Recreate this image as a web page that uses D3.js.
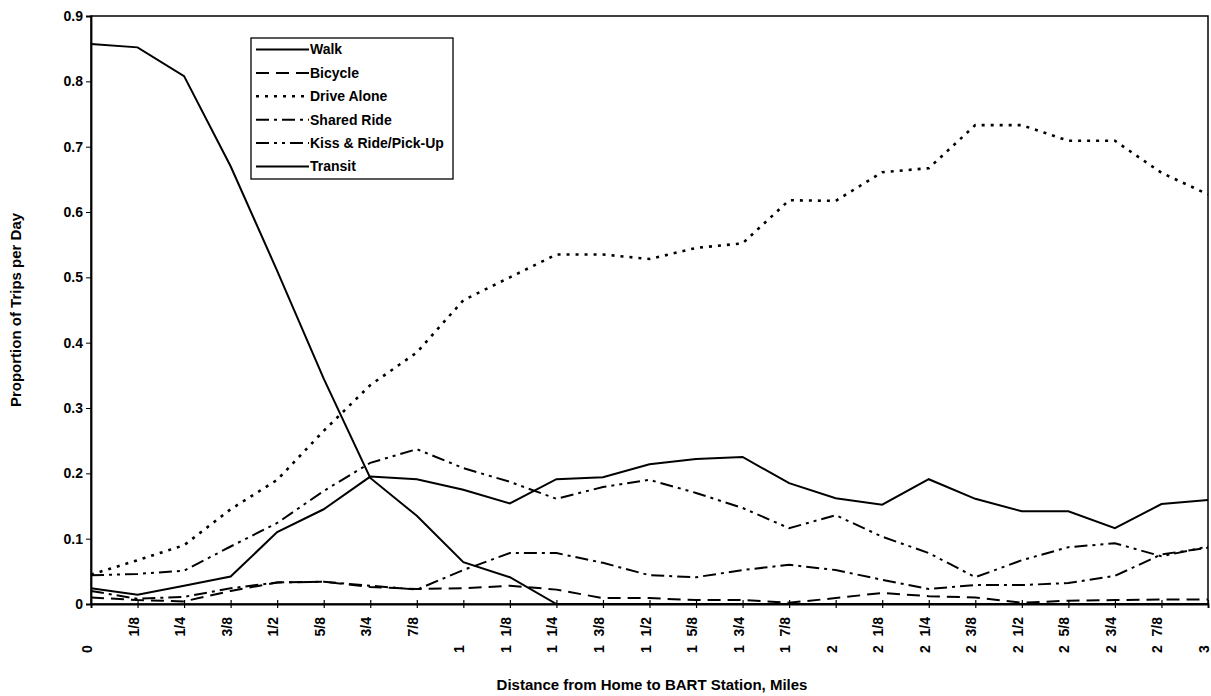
<!DOCTYPE html>
<html>
<head>
<meta charset="utf-8">
<script src="https://cdn.jsdelivr.net/npm/d3@7"></script>
<style>
  body { margin: 0; background: #fff; }
  svg { display: block; font-family: "Liberation Sans", Arial, sans-serif; }
</style>
</head>
<body>
<svg id="chart"></svg>
<script>
// distance categories (miles), as printed on the axis
const distances = ['0','1/8','1/4','3/8','1/2','5/8','3/4','7/8','1','1 1/8','1 1/4','1 3/8','1 1/2',
  '1 5/8','1 3/4','1 7/8','2','2 1/8','2 1/4','2 3/8','2 1/2','2 5/8','2 3/4','2 7/8','3'];

const walk = [0.857,0.852,0.808,0.670,0.510,0.345,0.193,0.135,0.064,0.041,0,0,0,0,0,0,0,0,0,0,0,0,0,0,0];
const bicycle = [0.010,0.006,0.004,0.020,0.033,0.034,0.026,0.023,0.024,0.028,0.022,0.009,0.009,
  0.006,0.006,0.002,0.009,0.017,0.012,0.010,0.002,0.005,0.006,0.007,0.007];
const driveAlone = [0.045,0.067,0.090,0.145,0.190,0.265,0.335,0.385,0.465,0.500,0.535,0.535,0.528,
  0.545,0.552,0.618,0.617,0.661,0.667,0.733,0.733,0.709,0.709,0.660,0.627];
const sharedRide = [0.020,0.008,0.011,0.024,0.033,0.034,0.028,0.022,0.052,0.078,0.078,0.063,0.044,
  0.041,0.052,0.060,0.052,0.037,0.023,0.029,0.029,0.032,0.043,0.076,0.086];
const kissRide = [0.044,0.046,0.051,0.088,0.124,0.173,0.216,0.237,0.208,0.187,0.161,0.179,0.190,
  0.170,0.147,0.116,0.136,0.103,0.078,0.041,0.067,0.087,0.093,0.073,0.088];
const transit = [0.024,0.014,0.028,0.042,0.110,0.145,0.195,0.191,0.175,0.154,0.191,0.194,0.214,
  0.222,0.225,0.185,0.162,0.152,0.191,0.161,0.142,0.142,0.116,0.153,0.159];

const yTicks = [0,0.1,0.2,0.3,0.4,0.5,0.6,0.7,0.8,0.9];

const series = [
  {name:'Walk', values:walk, dash:null},
  {name:'Bicycle', values:bicycle, dash:'13,7'},
  {name:'Drive Alone', values:driveAlone, dash:'3,6'},
  {name:'Shared Ride', values:sharedRide, dash:'13,5,3,5'},
  {name:'Kiss & Ride/Pick-Up', values:kissRide, dash:'13,5,3,5,3,5'},
  {name:'Transit', values:transit, dash:null}
];

const svgWidth = 1211;
const svgHeight = 696;
const plotLeft = 91, plotRight = 1208, plotTop = 16, plotBottom = 604;

const svg = d3.select('#chart')
  .attr('width', svgWidth)
  .attr('height', svgHeight);

const xScale = d3.scalePoint()
  .domain(distances)
  .range([plotLeft, plotRight]);

const yScale = d3.scaleLinear()
  .domain([0, 0.9])
  .range([plotBottom, plotTop]);

// plot frame
svg.append('rect')
  .attr('x', plotLeft).attr('y', plotTop)
  .attr('width', plotRight - plotLeft).attr('height', plotBottom - plotTop)
  .attr('fill', 'none').attr('stroke', '#000').attr('stroke-width', 1.5);

// y axis
const yAxis = d3.axisLeft(yScale)
  .tickValues(yTicks)
  .tickSize(5)
  .tickFormat(d => d === 0 ? '0' : d.toFixed(1));

const gy = svg.append('g')
  .attr('transform', 'translate(' + plotLeft + ',0)')
  .call(yAxis);
gy.select('.domain').attr('stroke-width', 1.8);
gy.selectAll('.tick text')
  .attr('font-size', 14).attr('font-weight', 'bold').attr('fill', '#000')
  .attr('x', -8);

// x axis, ticks cross the line
const xAxis = d3.axisBottom(xScale).tickSize(4).tickFormat('');
const gx = svg.append('g')
  .attr('transform', 'translate(0,' + plotBottom + ')')
  .call(xAxis);
gx.select('.domain').attr('stroke-width', 1.8);
gx.selectAll('.tick line').attr('y1', -4).attr('y2', 4).attr('stroke-width', 1.2);

// labels like Excel "# ?/?" : whole part low, fraction part high
distances.forEach(lab => {
  const parts = lab.split(' ');
  let whole = '', frac = '';
  if (parts.length === 2) { whole = parts[0]; frac = parts[1]; }
  else if (lab.indexOf('/') >= 0) { frac = lab; }
  else { whole = lab; }
  const x = xScale(lab) + 1;
  if (frac) {
    svg.append('text')
      .attr('transform', 'translate(' + x + ',617) rotate(-90)')
      .attr('text-anchor', 'end')
      .attr('font-size', 14).attr('font-weight', 'bold')
      .text(frac);
  }
  if (whole) {
    svg.append('text')
      .attr('transform', 'translate(' + x + ',653) rotate(-90)')
      .attr('text-anchor', 'start')
      .attr('font-size', 14).attr('font-weight', 'bold')
      .text(whole);
  }
});

// lines
const line = d3.line()
  .x((d, i) => xScale(distances[i]))
  .y(d => yScale(d));

svg.selectAll('path.series')
  .data(series)
  .enter()
  .append('path')
  .attr('class', 'series')
  .attr('d', d => line(d.values))
  .attr('fill', 'none')
  .attr('stroke', '#000')
  .attr('stroke-width', d => d.dash === '3,6' ? 2.6 : 2)
  .attr('stroke-dasharray', d => d.dash);

// legend
const legend = svg.append('g');
legend.append('rect')
  .attr('x', 251).attr('y', 38).attr('width', 202).attr('height', 141)
  .attr('fill', '#fff').attr('stroke', '#000').attr('stroke-width', 1.3);

series.forEach((s, i) => {
  const ly = 49.5 + i * 23.4;
  legend.append('line')
    .attr('x1', 256).attr('x2', 309).attr('y1', ly).attr('y2', ly)
    .attr('stroke', '#000')
    .attr('stroke-width', s.dash === '3,6' ? 2.6 : 2)
    .attr('stroke-dasharray', s.dash);
  legend.append('text')
    .attr('x', 310).attr('y', ly).attr('dy', '0.35em')
    .attr('font-size', 14).attr('font-weight', 'bold')
    .text(s.name);
});

// axis titles
svg.append('text')
  .attr('transform', 'translate(21,310) rotate(-90)')
  .attr('text-anchor', 'middle')
  .attr('font-size', 15).attr('font-weight', 'bold')
  .text('Proportion of Trips per Day');

svg.append('text')
  .attr('x', 652).attr('y', 690)
  .attr('text-anchor', 'middle')
  .attr('font-size', 15).attr('font-weight', 'bold')
  .text('Distance from Home to BART Station, Miles');
</script>
</body>
</html>
